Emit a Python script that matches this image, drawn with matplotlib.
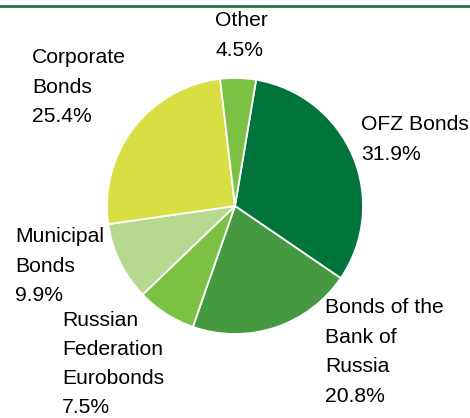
import matplotlib
matplotlib.use("Agg")
import matplotlib.pyplot as plt
from matplotlib.lines import Line2D

# Portfolio structure by instrument type (%), clockwise from the top
categories = ["OFZ Bonds", "Bonds of the Bank of Russia", "Russian Federation Eurobonds",
              "Municipal Bonds", "Corporate Bonds", "Other"]
shares = [31.9, 20.8, 7.5, 9.9, 25.4, 4.5]
colors = ["#00743a", "#459a40", "#7cc143", "#b6d990", "#d8df42", "#7cc143"]

# Label text lines (name split over lines, then the share)
label_lines = [
    ["OFZ Bonds"],
    ["Bonds of the", "Bank of", "Russia"],
    ["Russian", "Federation", "Eurobonds"],
    ["Municipal", "Bonds"],
    ["Corporate", "Bonds"],
    ["Other"],
]
# Left x, first-line baseline and line step of each label block, in pixels from top-left
label_pos = [(361, 130, 29.6), (325, 313, 29.6), (62, 326, 29.0),
             (15, 242, 29.6), (32, 63, 29.6), (215, 26.5, 29.6)]

W, H = 470, 418
fig = plt.figure(figsize=(W / 100, H / 100), dpi=100)
fig.patch.set_facecolor("white")

cx, cy, r = 235, 206, 128
ax = fig.add_axes([(cx - r) / W, (H - cy - r) / H, 2 * r / W, 2 * r / H])
ax.pie(shares, colors=colors, startangle=80.5, counterclock=False, radius=1,
       wedgeprops=dict(edgecolor="white", linewidth=1.3))
ax.set_xlim(-1, 1)
ax.set_ylim(-1, 1)
ax.set_axis_off()

# Green rule across the top
fig.add_artist(Line2D([0, 1], [1 - 6 / H] * 2, transform=fig.transFigure,
                      color="#1e7b3f", linewidth=2.0))

for lines, share, (x, y0, step) in zip(label_lines, shares, label_pos):
    for i, txt in enumerate(lines + [f"{share:.1f}%"]):
        fig.text(x / W, 1 - (y0 + i * step) / H, txt, ha="left", va="baseline",
                 fontsize=15.2, family="Liberation Sans", color="black")

fig.savefig("out.png", dpi=100)
